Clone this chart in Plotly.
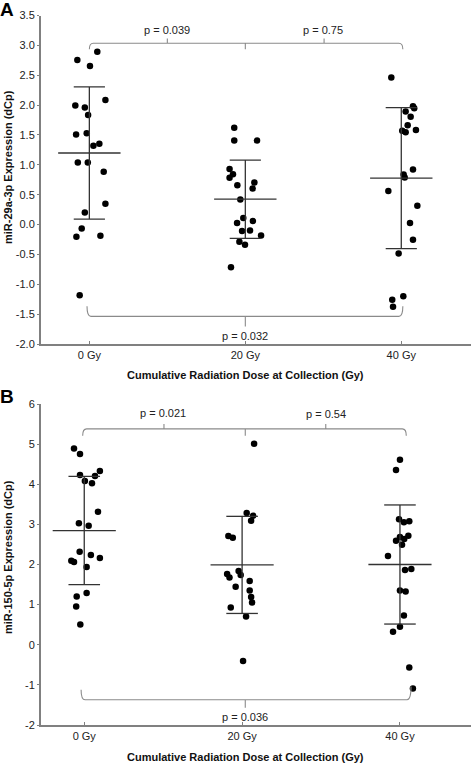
import plotly.graph_objects as go

# ---------------- data ----------------
categories = ["0 Gy", "20 Gy", "40 Gy"]

# Panel A: miR-29a-3p
a_0gy = [2.895, 2.756, 2.655, 2.087, 1.992, 1.958, 1.836, 1.507, 1.53, 1.318,
         1.351, 1.038, 1.038, 0.883, 0.348, 0.202, -0.065, -0.204, -0.187, -1.185]
a_0gy_jit = [0.051, -0.077, 0.004, 0.103, -0.090, -0.029, -0.008, -0.085, -0.017, 0.026,
             0.064, -0.074, -0.010, 0.092, 0.103, -0.029, -0.049, -0.083, 0.071, -0.062]
a_20gy = [1.619, 1.406, 1.406, 0.928, 0.844, 0.783, 0.66, 0.704, 0.604, 0.42,
          0.109, 0.025, 0.058, -0.109, -0.099, -0.182, -0.288, -0.338, -0.717]
a_20gy_jit = [-0.071, -0.071, 0.075, -0.101, -0.079, -0.101, -0.051, 0.058, 0.047, -0.032,
              -0.013, -0.053, 0.049, -0.021, 0.030, 0.101, -0.038, -0.002, -0.092]
a_40gy = [2.46, 1.982, 1.948, 1.891, 1.803, 1.664, 1.569, 1.547, 1.585, 0.921,
          0.838, 0.788, 0.56, 0.314, 0.025, -0.254, -0.483, -1.202, -1.258, -1.375]
a_40gy_jit = [-0.064, 0.075, 0.083, 0.028, 0.060, 0.041, 0.006, 0.028, 0.094, 0.075,
              0.015, 0.022, -0.083, 0.103, 0.056, 0.075, -0.017, 0.013, -0.058, -0.053]
a_means = [1.198, 0.424, 0.777]
a_sds = [1.106, 0.656, 1.18]

# Panel B: miR-150-5p
b_0gy = [4.888, 4.755, 4.232, 4.082, 4.023, 4.207, 4.332, 3.317, 3.025, 2.968,
         2.319, 2.237, 2.162, 2.095, 2.062, 1.937, 1.205, 1.289, 0.955, 0.506]
b_0gy_jit = [-0.065, -0.027, -0.027, 0.004, 0.049, 0.068, 0.099, 0.087, -0.034, 0.028,
             -0.029, 0.042, 0.099, -0.082, -0.065, 0.015, -0.048, 0.015, -0.051, -0.025]
b_20gy = [5.012, 3.284, 3.217, 3.092, 2.71, 2.668, 1.763, 1.679, 1.838, 1.738,
          1.446, 1.588, 1.354, 1.189, 1.055, 0.93, 0.706, -0.407]
b_20gy_jit = [0.076, 0.029, 0.070, 0.057, -0.087, -0.059, -0.095, -0.080, -0.022, -0.009,
              -0.041, 0.048, 0.048, 0.057, 0.063, -0.072, 0.025, 0.006]
b_40gy = [4.613, 4.356, 3.125, 3.05, 3.075, 2.594, 2.686, 2.636, 2.718, 2.494,
          2.212, 1.863, 1.888, 1.354, 1.329, 0.731, 0.449, 0.324, -0.566, -1.09]
b_40gy_jit = [0.0, -0.025, -0.006, 0.025, 0.059, -0.025, 0.0, 0.027, 0.053, 0.013,
              -0.076, 0.032, 0.072, 0.0, 0.036, 0.025, 0.0, -0.044, 0.059, 0.082]
b_means = [2.846, 1.99, 2.0]
b_sds = [1.35, 1.21, 1.484]

# p-value labels
a_p_top = ["p = 0.039", "p = 0.75"]
a_p_bottom = "p = 0.032"
b_p_top = ["p = 0.021", "p = 0.54"]
b_p_bottom = "p = 0.036"

# tick labels
a_tickvals = [3.5, 3.0, 2.5, 2.0, 1.5, 1.0, 0.5, 0.0, -0.5, -1.0, -1.5, -2.0]
a_ticktext = ["3.5", "3.0", "2.5", "2.0", "1.5", "1.0", "0.5", "0.0", "-0.5", "-1.0", "-1.5", "-2.0"]
b_tickvals = [6, 5, 4, 3, 2, 1, 0, -1, -2]
b_ticktext = ["6", "5", "4", "3", "2", "1", "0", "-1", "-2"]

y_title_a = "miR-29a-3p Expression (dCp)"
y_title_b = "miR-150-5p Expression (dCp)"
x_title = "Cumulative Radiation Dose at Collection (Gy)"

# ---------------- figure ----------------
W, H = 471, 764
ML, MR, MT, MB = 41, 0, 15, 39
PW, PH = W - ML - MR, H - MT - MB


def pxx(x):
    return (x - ML) / PW


def pxy(y):
    return 1 - (y - MT) / PH


FONT = "Liberation Sans, Arial, Helvetica, sans-serif"
AXC = "#808080"
ERRC = "#333333"
BRC = "#8a8a8a"

fig = go.Figure()


def add_panel(groups, jits, means, sds, xa, ya):
    for i, (vals, jit) in enumerate(zip(groups, jits)):
        fig.add_trace(go.Scatter(
            x=[i + j for j in jit], y=vals, mode="markers",
            marker=dict(color="black", size=6.5, line=dict(width=0)),
            xaxis=xa, yaxis=ya, showlegend=False, hoverinfo="y"))
    for i, (m, s) in enumerate(zip(means, sds)):
        fig.add_trace(go.Scatter(x=[i - 0.2, i + 0.2], y=[m, m], mode="lines",
                                 line=dict(color=ERRC, width=1.3), xaxis=xa, yaxis=ya,
                                 showlegend=False, hoverinfo="skip"))
        fig.add_trace(go.Scatter(x=[i, i], y=[m - s, m + s], mode="lines",
                                 line=dict(color=ERRC, width=1.3), xaxis=xa, yaxis=ya,
                                 showlegend=False, hoverinfo="skip"))
        for e in (m - s, m + s):
            fig.add_trace(go.Scatter(x=[i - 0.1, i + 0.1], y=[e, e], mode="lines",
                                     line=dict(color=ERRC, width=1.3), xaxis=xa, yaxis=ya,
                                     showlegend=False, hoverinfo="skip"))


add_panel([a_0gy, a_20gy, a_40gy], [a_0gy_jit, a_20gy_jit, a_40gy_jit], a_means, a_sds, "x", "y")
add_panel([b_0gy, b_20gy, b_40gy], [b_0gy_jit, b_20gy_jit, b_40gy_jit], b_means, b_sds, "x2", "y2")


def top_bracket(level, drop, up, x0=0.0, xm=1.0, x1=2.0):
    r = 0.025
    p = f"M {x0},{level - drop} Q {x0},{level} {x0 + r},{level} "
    p += f"L {(x0 + xm) / 2},{level} L {(x0 + xm) / 2},{level + up} M {(x0 + xm) / 2},{level} "
    p += f"L {xm},{level} L {xm},{level - drop} M {xm},{level} "
    p += f"L {(xm + x1) / 2},{level} L {(xm + x1) / 2},{level + up} M {(xm + x1) / 2},{level} "
    p += f"L {x1 - r},{level} Q {x1},{level} {x1},{level - drop}"
    return p


def bottom_bracket(level, rise_l, rise_r, down, x0=0.0, xm=1.0, x1=2.0):
    r = 0.025
    p = f"M {x0},{level + rise_l} Q {x0},{level} {x0 + r},{level} "
    p += f"L {xm},{level} L {xm},{level - down} M {xm},{level} "
    p += f"L {x1 - r},{level} Q {x1},{level} {x1},{level + rise_r}"
    return p


shapes = [
    dict(type="path", xref="x", yref="y", path=top_bracket(3.035, 0.1, 0.08, 0.0, 1.0, 2.01),
         line=dict(color=BRC, width=1.1)),
    dict(type="path", xref="x", yref="y", path=bottom_bracket(-1.537, 0.17, 0.17, 0.17, -0.015, 1.0, 2.01),
         line=dict(color=BRC, width=1.1)),
    dict(type="path", xref="x2", yref="y2", path=top_bracket(5.379, 0.17, 0.12, -0.01, 1.02, 2.04),
         line=dict(color=BRC, width=1.1)),
    dict(type="path", xref="x2", yref="y2", path=bottom_bracket(-1.372, 0.25, 0.33, 0.2, -0.02, 1.02, 2.07),
         line=dict(color=BRC, width=1.1)),
]

C = dict(xanchor="center", yanchor="middle", showarrow=False)
ann = []
pfont = dict(family=FONT, size=11, color="#222")
ann += [
    dict(C, x=0.5, y=3.25, xref="x", yref="y", text=a_p_top[0], font=pfont),
    dict(C, x=1.5, y=3.25, xref="x", yref="y", text=a_p_top[1], font=pfont),
    dict(C, x=1.0, y=-1.86, xref="x", yref="y", text=a_p_bottom, font=pfont),
    dict(C, x=0.5, y=5.77, xref="x2", yref="y2", text=b_p_top[0], font=pfont),
    dict(C, x=1.53, y=5.74, xref="x2", yref="y2", text=b_p_top[1], font=pfont),
    dict(C, x=1.02, y=-1.79, xref="x2", yref="y2", text=b_p_bottom, font=pfont),
]
tfont = dict(family=FONT, size=11, color="#111")
ann += [
    dict(C, x=pxx(8), y=pxy(167), xref="paper", yref="paper", text=f"<b>{y_title_a}</b>",
         textangle=-90, font=tfont),
    dict(C, x=pxx(8), y=pxy(557), xref="paper", yref="paper", text=f"<b>{y_title_b}</b>",
         textangle=-90, font=tfont),
    dict(C, x=pxx(245), y=pxy(375), xref="paper", yref="paper", text=f"<b>{x_title}</b>",
         font=tfont),
    dict(C, x=pxx(245), y=pxy(757), xref="paper", yref="paper", text=f"<b>{x_title}</b>",
         font=tfont),
    dict(C, x=pxx(7), y=pxy(9), xref="paper", yref="paper", text="<b>A</b>",
         font=dict(family=FONT, size=19, color="black")),
    dict(C, x=pxx(7), y=pxy(397), xref="paper", yref="paper", text="<b>B</b>",
         font=dict(family=FONT, size=19, color="black")),
]

tickfont = dict(family=FONT, size=11, color="#222")
xcommon = dict(showline=True, linecolor=AXC, linewidth=2, showgrid=False, zeroline=False,
               ticks="inside", ticklen=3, tickcolor=AXC, tickfont=tickfont,
               tickvals=[0, 1, 2], ticktext=categories, automargin=False)
ycommon = dict(showline=True, linecolor=AXC, linewidth=2, showgrid=False, zeroline=False,
               ticks="outside", ticklen=2, tickcolor=AXC, tickfont=tickfont, automargin=False)

domA = [pxy(344), min(1.0, pxy(15.5))]
domB = [max(0.0, pxy(725)), pxy(404)]

fig.update_layout(
    width=W, height=H,
    margin=dict(l=ML, r=MR, t=MT, b=MB, autoexpand=False),
    paper_bgcolor="white", plot_bgcolor="white",
    showlegend=False,
    xaxis=dict(xcommon, range=[-0.31, 2.447], domain=[0, 1], anchor="y"),
    yaxis=dict(ycommon, range=[-2.0, 3.5], domain=domA, anchor="x",
               tickvals=a_tickvals, ticktext=a_ticktext),
    xaxis2=dict(xcommon, range=[-0.274, 2.45], domain=[0, 1], anchor="y2"),
    yaxis2=dict(ycommon, range=[-2, 6], domain=domB, anchor="x2",
                tickvals=b_tickvals, ticktext=b_ticktext),
    shapes=shapes,
    annotations=ann,
)

fig.write_html(
    "out.html",
    config={"displayModeBar": False},
    post_script="document.documentElement.style.margin='0';document.body.style.margin='0';"
                "document.body.style.overflow='hidden';",
)
